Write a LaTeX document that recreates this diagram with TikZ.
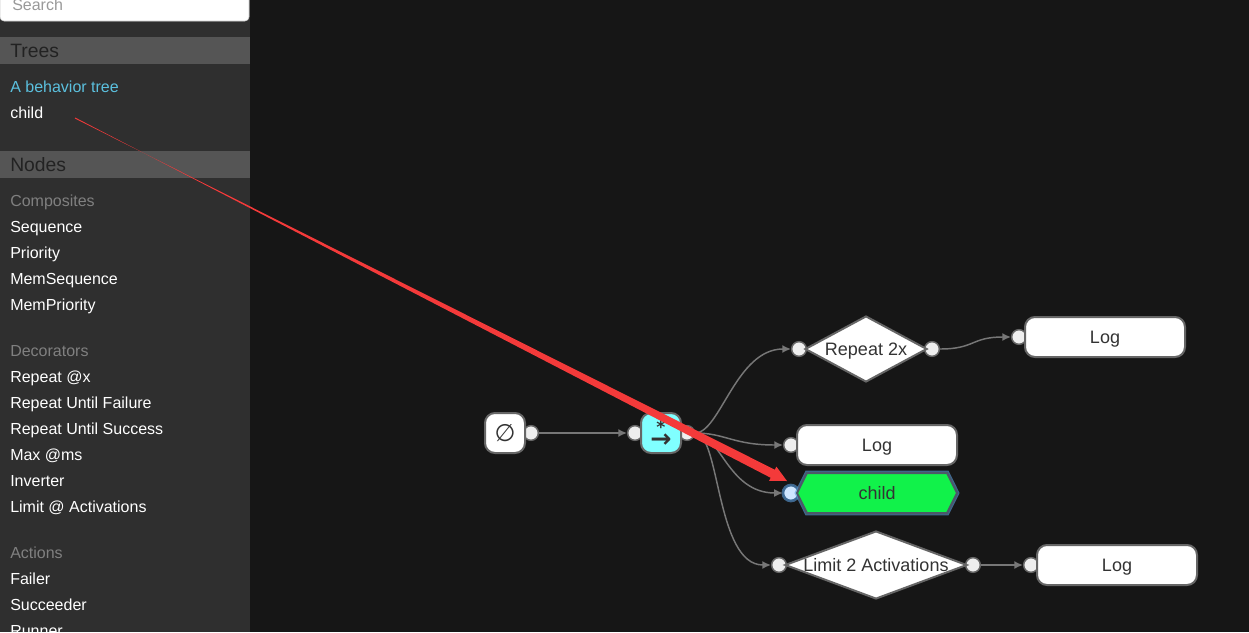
\documentclass[tikz,border=0pt]{standalone}
\usepackage{fontspec}
\setmainfont{Liberation Sans}
\newfontfamily\symfont{DejaVu Sans}
\usetikzlibrary{shapes,arrows.meta,positioning,calc,backgrounds}

\definecolor{canvas}{HTML}{161616}
\definecolor{sidebar}{HTML}{2F2F2F}
\definecolor{band}{HTML}{555555}
\definecolor{bordergray}{HTML}{666666}
\definecolor{edgegray}{HTML}{777777}
\definecolor{portfill}{HTML}{EEEEEE}
\definecolor{seqcyan}{HTML}{80FFFF}
\definecolor{childgreen}{HTML}{11F24A}
\definecolor{childborder}{HTML}{4C5868}
\definecolor{treeblue}{HTML}{5BC0DE}
\definecolor{sectiongray}{HTML}{808080}
\definecolor{headertext}{HTML}{222222}
\definecolor{nodetext}{HTML}{333333}
\definecolor{redarrow}{HTML}{F43A3A}
\definecolor{glowblue}{HTML}{5A9BD8}
\definecolor{portblue}{HTML}{CFE6FF}

\begin{document}
\begin{tikzpicture}[x=0.75pt, y=-0.75pt]

    % Define block styles
    \tikzstyle{item} = [anchor=base west, inner sep=0pt, text=white, font=\fontsize{12}{14}\selectfont]
    \tikzstyle{section} = [item, text=sectiongray]
    \tikzstyle{header} = [anchor=base west, inner sep=0pt, text=headertext, font=\fontsize{14.5}{17}\selectfont]
    \tikzstyle{block} = [rectangle, draw=bordergray, line width=1.5pt, fill=white, rounded corners=7.5pt, minimum width=120pt, minimum height=30pt, text=nodetext, font=\fontsize{13.5}{16}\selectfont, text height=9.7pt, text depth=0pt]
    \tikzstyle{square} = [block, minimum width=30pt, minimum height=30pt, inner sep=0pt, text height=, text depth=]
    \tikzstyle{decision} = [diamond, draw=bordergray, line width=1.5pt, fill=white, inner sep=0pt, text=nodetext, font=\fontsize{13.5}{16}\selectfont, text height=9.7pt, text depth=0pt]
    \tikzstyle{port} = [circle, draw=bordergray, line width=1.1pt, fill=portfill, minimum size=11pt, inner sep=0pt]
    \tikzstyle{line} = [draw=edgegray, line width=1.1pt, -{Latex[length=6.5pt,width=6pt]}]

    \useasboundingbox (0,0) rectangle (1249,632);
    \clip (0,0) rectangle (1249,632);

    % Sidebar
    \draw [draw=black!20, fill=white, rounded corners=3pt] (0,-12) rectangle (249,21);
    \node [item, text=black!40] (search) at (12,10) {Search};
    \node [header] (trees) at (10,57) {Trees};
    \node [item, text=treeblue] (tree1) at (10,92) {A behavior tree};
    \node [item] (tree2) at (10,118) {child};
    \node [header] (nodes) at (10,171) {Nodes};
    \node [section] (composites) at (10,206) {Composites};
    \node [item] (sequenceitem) at (10,232) {Sequence};
    \node [item] (priorityitem) at (10,258) {Priority};
    \node [item] (memsequenceitem) at (10,284) {MemSequence};
    \node [item] (mempriorityitem) at (10,310) {MemPriority};
    \node [section] (decorators) at (10,356) {Decorators};
    \node [item] (repeatitem) at (10,382) {Repeat @x};
    \node [item] (failureitem) at (10,408) {Repeat Until Failure};
    \node [item] (successitem) at (10,434) {Repeat Until Success};
    \node [item] (maxitem) at (10,460) {Max @ms};
    \node [item] (inverteritem) at (10,486) {Inverter};
    \node [item] (limititem) at (10,512) {Limit @ Activations};
    \node [section] (actions) at (10,558) {Actions};
    \node [item] (faileritem) at (10,584) {Failer};
    \node [item] (succeederitem) at (10,610) {Succeeder};
    \node [item] (runneritem) at (10,636) {Runner};

    % Nodes
    \node [square, text=nodetext] (root) at (505,433) {\symfont\fontsize{18}{18}\selectfont ∅};
    \node [square, fill=seqcyan] (sequence) at (661,433) {};
    \node [inner sep=0pt, text=nodetext, font=\symfont\bfseries\fontsize{13}{13}\selectfont] (seqstar) at (661,427) {*};
    \node [inner sep=0pt, text=nodetext, font=\symfont\bfseries\fontsize{19}{19}\selectfont] (seqarrow) at (661,441) {→};
    \node [decision, aspect=1.85, minimum width=91.5pt, minimum height=49.5pt] (repeat) at (866,349) {Repeat 2x};
    \node [block] (log1) at (1105,337) {Log};
    \node [block] (log2) at (877,445) {Log};
    \node [signal, signal to=west and east, signal pointer angle=127, draw=childborder, line width=1.5pt, fill=childgreen, minimum width=120pt, minimum height=30pt, text=nodetext, font=\fontsize{13.5}{16}\selectfont, text height=9.7pt, text depth=0pt, preaction={draw=glowblue, line width=3.5pt, opacity=0.6}] (child) at (877,493) {child};
    \node [decision, aspect=2.68, minimum width=136.5pt, minimum height=51pt] (limit) at (876,565) {Limit 2 Activations};
    \node [block] (log3) at (1117,565) {Log};

    % Ports and background
    \begin{scope}[on background layer]
        \fill [canvas] (0,0) rectangle (1249,632);
        \fill [sidebar] (0,0) rectangle (250,632);
        \fill [band] (0,37) rectangle (250,64);
        \fill [band] (0,151) rectangle (250,178);
        \node [port] (rootout) at ([xshift=3.75pt]root.east) {};
        \node [port] (seqin) at ([xshift=-3.75pt]sequence.west) {};
        \node [port] (seqout) at ([xshift=3.75pt]sequence.east) {};
        \node [port] (repeatin) at ([xshift=-3.75pt]repeat.west) {};
        \node [port] (repeatout) at ([xshift=3pt]repeat.east) {};
        \node [port] (log1in) at ([xshift=-3.75pt]log1.west) {};
        \node [port] (log2in) at ([xshift=-3.75pt]log2.west) {};
        \node [port, fill=portblue, draw=glowblue!70!black, preaction={draw=glowblue, line width=3pt, opacity=0.6}] (childin) at ([xshift=-3.75pt]child.west) {};
        \node [port] (limitin) at ([xshift=-3.75pt]limit.west) {};
        \node [port] (limitout) at ([xshift=3.75pt]limit.east) {};
        \node [port] (log3in) at ([xshift=-3.75pt]log3.west) {};
    \end{scope}

    % Arrows
    \path [line] (rootout.east) -- (seqin.west);
    \path [line] (seqout.east) .. controls +(25,0) and +(-55,0) .. (repeatin.west);
    \path [line] (seqout.east) .. controls +(30,0) and +(-50,0) .. (log2in.west);
    \path [line] (seqout.east) .. controls +(25,0) and +(-55,0) .. (childin.west);
    \path [line] (seqout.east) .. controls +(25,0) and +(-55,0) .. (limitin.west);
    \path [line] (repeatout.east) .. controls +(35,0) and +(-40,0) .. (log1in.west);
    \path [line] (limitout.east) -- (log3in.west);

    % Annotation
    \coordinate (redstart) at (75,118);
    \coordinate (redtip) at (787,481);
    \coordinate (redbase) at ($(redtip)!12pt!(redstart)$);
    \fill [redarrow] ($(redstart)!0.375pt!90:(redtip)$) -- ($(redbase)!3.4pt!-90:(redtip)$) -- ($(redbase)!6pt!-90:(redtip)$) -- (redtip) -- ($(redbase)!6pt!90:(redtip)$) -- ($(redbase)!3.4pt!90:(redtip)$) -- ($(redstart)!0.375pt!-90:(redtip)$) -- cycle;

\end{tikzpicture}
\end{document}
